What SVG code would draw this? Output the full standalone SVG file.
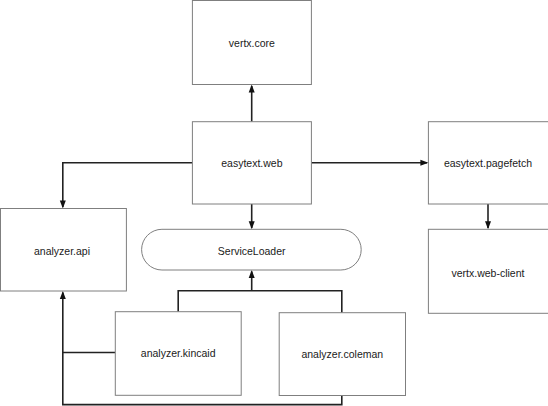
<svg xmlns="http://www.w3.org/2000/svg" width="548" height="406" viewBox="0 0 548 406">
<style>
.box{fill:#fff;stroke:#7f7f7f;stroke-width:1}
.lbl{font-family:"Liberation Sans",Arial,sans-serif;font-size:10.5px;fill:#1a1a1a;text-anchor:middle;dominant-baseline:central}
.edge{fill:none;stroke:#222;stroke-width:1.6}
.head{fill:#111}
</style>
<rect x="0" y="0" width="548" height="406" fill="#fff"/>
<g id="connectors">
<path class="edge" d="M251.7,121.7 V86"/>
<path class="edge" d="M192.4,162.7 H62.8 V207"/>
<path class="edge" d="M311.4,162.7 H427"/>
<path class="edge" d="M251.7,204 V228"/>
<path class="edge" d="M488,204 V228"/>
<path class="edge" d="M178.2,311.7 V290.7 H341.8 V312.7 M251.7,290.7 V271.5"/>
<path class="edge" d="M115.3,352.5 H62.8"/>
<path class="edge" d="M341.8,395.5 V404.6 H62.8 V292.5"/>
<g id="arrowheads">
<path class="head" d="M251.7,84.5 L248.7,92.5 L254.7,92.5 z"/>
<path class="head" d="M62.8,208.5 L59.8,200.5 L65.8,200.5 z"/>
<path class="head" d="M428.4,162.7 L420.4,159.7 L420.4,165.7 z"/>
<path class="head" d="M251.7,229.3 L248.7,221.3 L254.7,221.3 z"/>
<path class="head" d="M488,229.3 L485,221.3 L491,221.3 z"/>
<path class="head" d="M251.7,270 L248.7,278 L254.7,278 z"/>
<path class="head" d="M62.8,291 L59.8,299 L65.8,299 z"/>
</g>
</g>
<g id="vertx-core"><rect class="box" x="192.4" y="0.5" width="119" height="84"/><text class="lbl" x="251.9" y="43">vertx.core</text></g>
<g id="easytext-web"><rect class="box" x="192.4" y="121.7" width="119" height="82.3"/><text class="lbl" x="251.9" y="163">easytext.web</text></g>
<g id="easytext-pagefetch"><rect class="box" x="428.4" y="121.7" width="121" height="82.3"/><text class="lbl" x="488" y="163">easytext.pagefetch</text></g>
<g id="vertx-web-client"><rect class="box" x="428.4" y="229.3" width="121" height="84"/><text class="lbl" x="488" y="272.5">vertx.web-client</text></g>
<g id="analyzer-api"><rect class="box" x="0.5" y="208.5" width="125.9" height="82.5"/><text class="lbl" x="62" y="251">analyzer.api</text></g>
<g id="serviceloader"><rect class="box" x="141.6" y="229.3" width="219.6" height="40.7" rx="20.35" ry="20.35"/><text class="lbl" x="251.7" y="250.5">ServiceLoader</text></g>
<g id="analyzer-kincaid"><rect class="box" x="115.3" y="311.7" width="125.9" height="83.6"/><text class="lbl" x="178.2" y="353">analyzer.kincaid</text></g>
<g id="analyzer-coleman"><rect class="box" x="279.2" y="312.7" width="126.3" height="82.8"/><text class="lbl" x="342.3" y="354">analyzer.coleman</text></g>
</svg>
